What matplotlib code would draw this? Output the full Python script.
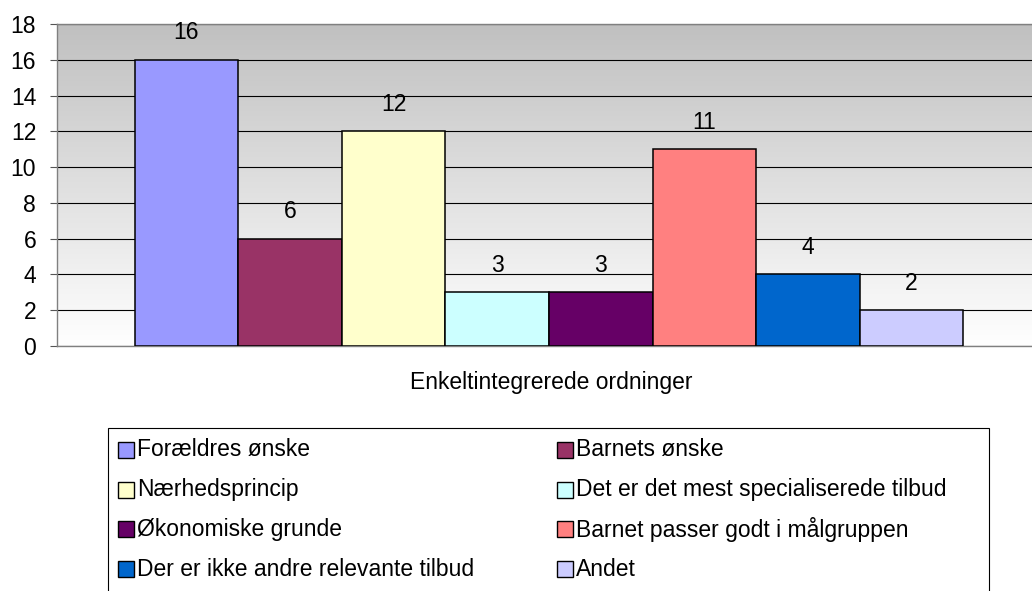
import numpy as np
import matplotlib

matplotlib.use("Agg")
import matplotlib.pyplot as plt
from matplotlib.patches import Rectangle

plt.rcParams["font.family"] = ["Liberation Sans", "DejaVu Sans"]

CATEGORY = "Enkeltintegrerede ordninger"
SERIES = [
    "Forældres ønske",
    "Barnets ønske",
    "Nærhedsprincip",
    "Det er det mest specialiserede tilbud",
    "Økonomiske grunde",
    "Barnet passer godt i målgruppen",
    "Der er ikke andre relevante tilbud",
    "Andet",
]
VALUES = [16, 6, 12, 3, 3, 11, 4, 2]
COLORS = ["#9999FF", "#993366", "#FFFFCC", "#CCFFFF",
          "#660066", "#FF8080", "#0066CC", "#CCCCFF"]

W, H = 1032, 591
FS = 16.5


def fx(px):
    return px / W


def fy(py):
    return 1 - py / H


fig = plt.figure(figsize=(W / 100, H / 100), dpi=100)
# plot area in pixels: left 57, right ~1041, top 24, bottom 346
ax = fig.add_axes([fx(57), fy(346), (1041 - 57) / W, (346 - 24) / H])

# gradient background (grey at top to white at bottom)
grad = np.linspace(0, 1, 256).reshape(-1, 1)
ax.imshow(grad, cmap=matplotlib.colors.LinearSegmentedColormap.from_list(
    "bg", ["#FFFFFF", "#C0C0C0"]), aspect="auto", extent=[0, 1, 0, 1],
    transform=ax.transAxes, origin="lower", zorder=0)

n = len(VALUES)
bw = 1 / (n + 1.5)  # gap width 150%
x = (np.arange(n) - (n - 1) / 2) * bw
ax.bar(x, VALUES, width=bw, color=COLORS, edgecolor="black",
       linewidth=1.1, zorder=3)
for xi, v in zip(x, VALUES):
    ax.annotate(f"{v}", (xi, v), xytext=(0, 19.5), textcoords="offset points",
                ha="center", va="center", fontsize=FS, zorder=4)

ax.set_xlim(-0.5, 0.5)
ax.set_ylim(0, 18)
ax.set_yticks(range(0, 19, 2))
ax.grid(axis="y", color="black", linewidth=0.8)
for gl in ax.get_ygridlines():
    gl.set_zorder(1)
ax.set_xticks([])
ax.tick_params(axis="y", labelsize=FS, length=5, width=0.8, pad=10,
               color="#555555")
for side in ["top", "right", "left", "bottom"]:
    ax.spines[side].set_color("#808080")
    ax.spines[side].set_linewidth(1.0)

fig.text(fx(551), fy(383), CATEGORY, ha="center", va="center", fontsize=FS)

# legend box (two columns, row-wise order like the original)
fig.patches.append(Rectangle((fx(108), fy(600)), fx(989 - 108), (600 - 428) / H,
                             transform=fig.transFigure, facecolor="white",
                             edgecolor="black", linewidth=0.8))
col_x = [118, 557]
row_y0, row_dy = 450, 39.7
box = 16
for i, (label, color) in enumerate(zip(SERIES, COLORS)):
    r, c = divmod(i, 2)
    cy = row_y0 + r * row_dy
    fig.patches.append(Rectangle((fx(col_x[c]), fy(cy + box / 2)), box / W, box / H,
                                 transform=fig.transFigure, facecolor=color,
                                 edgecolor="black", linewidth=1.0))
    fig.text(fx(col_x[c] + box + 3), fy(cy), label, ha="left", va="center",
             fontsize=FS)

fig.savefig("out.png", dpi=100)
